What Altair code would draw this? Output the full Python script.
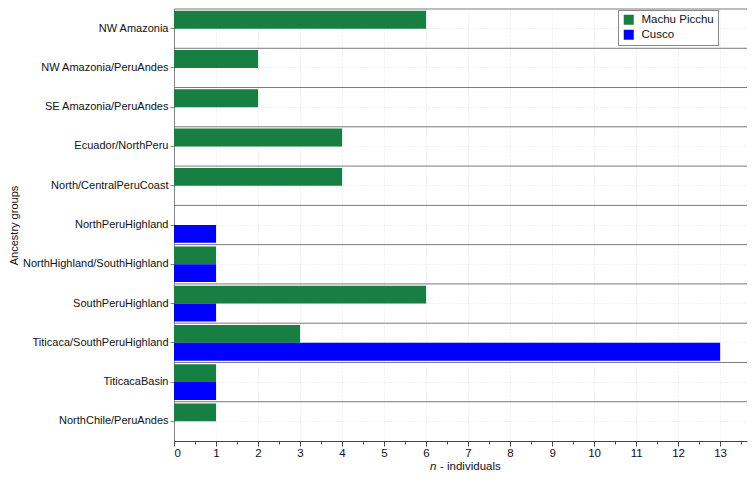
import altair as alt
import pandas as pd

groups = [
    "NW Amazonia",
    "NW Amazonia/PeruAndes",
    "SE Amazonia/PeruAndes",
    "Ecuador/NorthPeru",
    "North/CentralPeruCoast",
    "NorthPeruHighland",
    "NorthHighland/SouthHighland",
    "SouthPeruHighland",
    "Titicaca/SouthPeruHighland",
    "TiticacaBasin",
    "NorthChile/PeruAndes",
]
machu_picchu = [6, 2, 2, 4, 4, 0, 1, 6, 3, 1, 1]
cusco = [0, 0, 0, 0, 0, 1, 1, 1, 13, 1, 0]
series = ["Machu Picchu", "Cusco"]
colors = ["#177f41", "#0000ff"]
x_tick_values = [0, 0.5, 1, 1.5, 2, 2.5, 3, 3.5, 4, 4.5, 5, 5.5, 6, 6.5,
                 7, 7.5, 8, 8.5, 9, 9.5, 10, 10.5, 11, 11.5, 12, 12.5, 13, 13.5]
x_max = 13.64

rows = []
for g, m, c in zip(groups, machu_picchu, cusco):
    rows.append({"group": g, "series": series[0], "n": m})
    rows.append({"group": g, "series": series[1], "n": c})
df = pd.DataFrame(rows)
df = df[df["n"] > 0]

FONT = "Liberation Sans"
W, H = 573, 432

yscale = alt.Scale(domain=groups, paddingInner=0, paddingOuter=0)
xscale = alt.Scale(domain=[0, x_max], nice=False, zero=True)

bars = alt.Chart(df).mark_bar().encode(
    x=alt.X("n:Q", scale=xscale,
            axis=alt.Axis(
                values=x_tick_values,
                title=None,
                labelExpr="datum.value % 1 == 0 ? format(datum.value, 'd') : ''",
                tickSize={"condition": {"test": "datum.value % 1 == 0", "value": 5}, "value": 3},
                labelPadding=1,
                labelFont=FONT, labelFontSize=11.5, labelColor="#111",
                domainColor="#444", tickColor="#444",
                grid=True, gridDash=[1, 2], gridColor="#e4e4e4",
                gridOpacity={"condition": {"test": "datum.value % 1 == 0", "value": 1}, "value": 0},
            )),
    y=alt.Y("group:N", sort=groups, scale=yscale,
            axis=alt.Axis(
                title="Ancestry groups",
                titleFont=FONT, titleFontSize=11, titleFontWeight="normal", titleColor="#111",
                titlePadding=3,
                labelFont=FONT, labelFontSize=11, labelColor="#111",
                labelPadding=2, tickSize=4,
                domainColor="#888", tickColor="#888",
                grid=True, gridDash=[1, 2], gridColor="#e4e4e4",
            )),
    yOffset=alt.YOffset("series:N", sort=series,
                        scale=alt.Scale(domain=series, paddingInner=0, paddingOuter=0.1)),
    color=alt.Color("series:N", sort=series,
                    scale=alt.Scale(domain=series, range=colors),
                    legend=alt.Legend(
                        title=None, orient="none", legendX=444, legendY=1,
                        symbolType="square", symbolSize=100, symbolStrokeWidth=0,
                        labelFont=FONT, labelFontSize=11.5, labelColor="#111",
                        labelOffset=7,
                        strokeColor="#888", fillColor="white", padding=4,
                        rowPadding=2, symbolOffset=1,
                    )),
)

seps = alt.Chart(pd.DataFrame({"group": groups})).mark_rule(
    color="#7a7a7a", strokeWidth=1
).encode(y=alt.Y("group:N", sort=groups, bandPosition=0, scale=yscale))

title_df = pd.DataFrame({"t": ["n"]})
t1 = alt.Chart(title_df).mark_text(
    text="n", fontStyle="italic", font=FONT, fontSize=11.5, align="left",
    baseline="alphabetic", color="#111"
).encode(x=alt.value(256), y=alt.value(H + 29))
t2 = alt.Chart(title_df).mark_text(
    text="- individuals", font=FONT, fontSize=11.5, align="left",
    baseline="alphabetic", color="#111"
).encode(x=alt.value(266), y=alt.value(H + 29))

chart = alt.layer(seps, bars, t1, t2).properties(
    width=W, height=H, padding=0
).configure_view(stroke=None)

chart.save("out.html", embed_options={"renderer": "svg", "actions": False})
